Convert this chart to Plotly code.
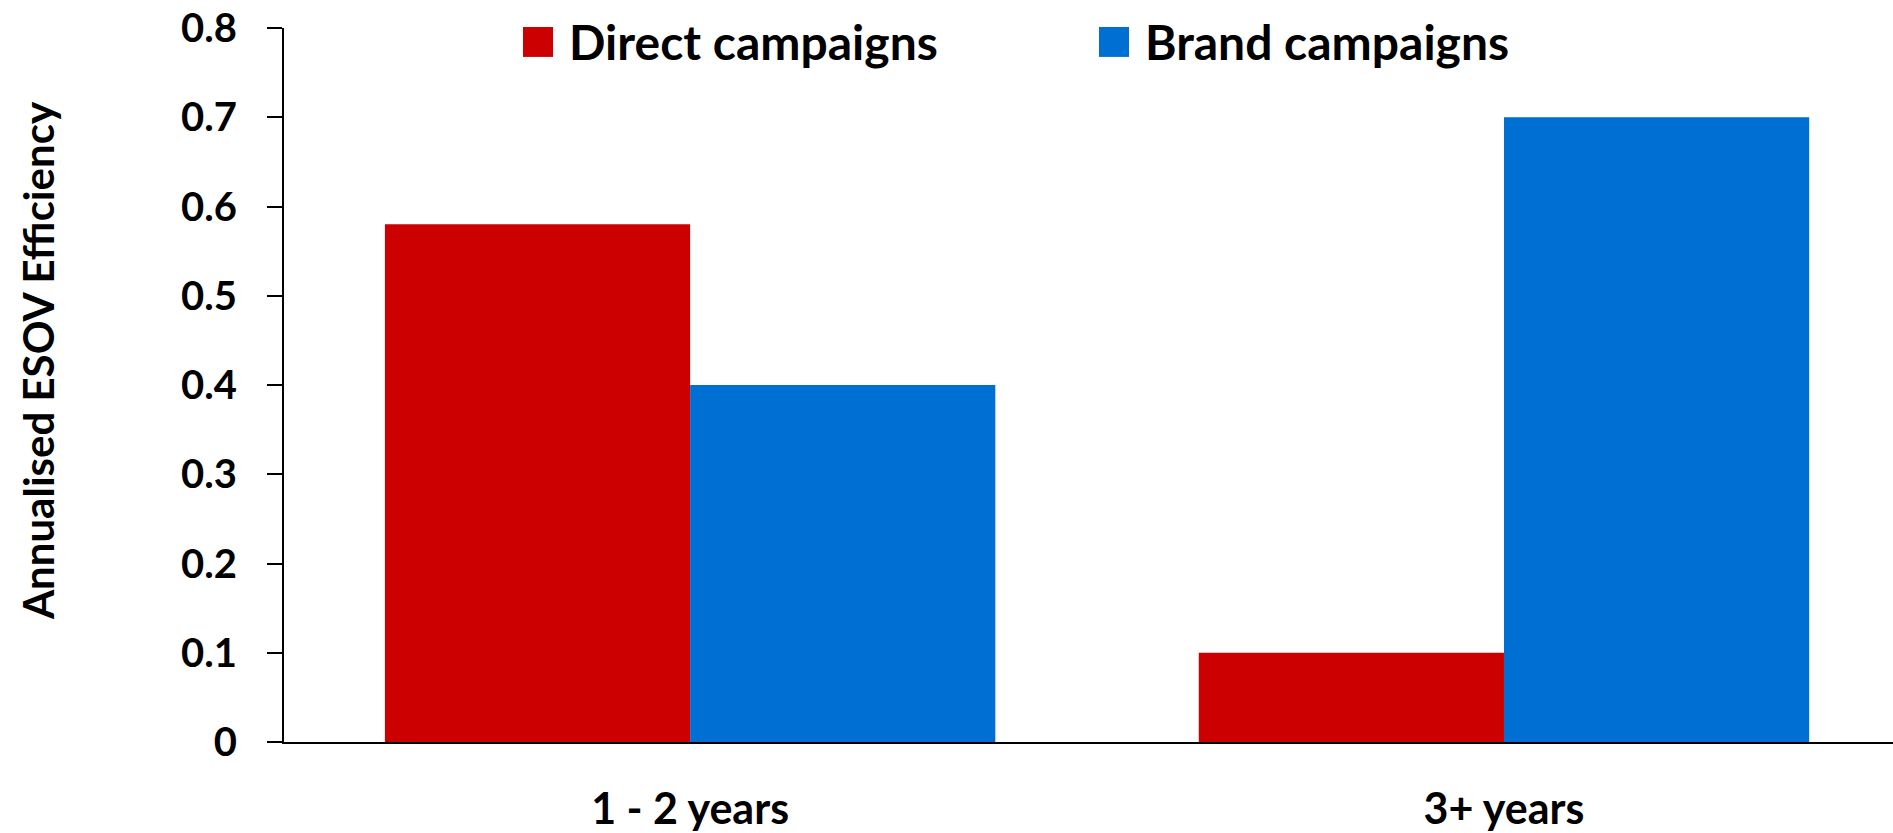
import plotly.graph_objects as go

categories = ["1 - 2 years", "3+ years"]
direct_values = [0.58, 0.10]
brand_values = [0.40, 0.70]
series_names = ["Direct campaigns", "Brand campaigns"]
y_tick_values = [0, 0.1, 0.2, 0.3, 0.4, 0.5, 0.6, 0.7, 0.8]
y_tick_labels = ["0", "0.1", "0.2", "0.3", "0.4", "0.5", "0.6", "0.7", "0.8"]
y_title = "Annualised ESOV Efficiency"

RED = "#CC0000"
BLUE = "#006FD4"
FONT = "Lato"

W, H = 1893, 833
L, R, T, B = 284, 0, 28, 89
pw = W - L - R
ph = H - T - B

def px_x(p):
    return (p - L) / pw

def px_y(p):
    return (H - B - p) / ph

fig = go.Figure()
fig.add_trace(go.Bar(x=categories, y=direct_values, name=series_names[0],
                     marker=dict(color=RED, line=dict(width=0)), showlegend=False))
fig.add_trace(go.Bar(x=categories, y=brand_values, name=series_names[1],
                     marker=dict(color=BLUE, line=dict(width=0)), showlegend=False))

# custom legend
legend_items = [(523, series_names[0], RED), (1099, series_names[1], BLUE)]
for x0, name, col in legend_items:
    fig.add_shape(type="rect", xref="paper", yref="paper",
                  x0=px_x(x0), x1=px_x(x0 + 30), y0=px_y(57), y1=px_y(27),
                  fillcolor=col, line=dict(width=0))
    fig.add_annotation(xref="paper", yref="paper", x=px_x(x0 + 44), y=px_y(42),
                       xanchor="left", yanchor="middle", showarrow=False,
                       text=name, font=dict(family=FONT, size=48, color="black", weight=700))

fig.add_annotation(xref="paper", yref="paper", x=px_x(38), y=px_y(362),
                   xanchor="center", yanchor="middle", showarrow=False, textangle=-90,
                   text=y_title, font=dict(family=FONT, size=42, color="black", weight=700))

fig.update_layout(
    width=W, height=H,
    margin=dict(l=L, r=R, t=T, b=B, pad=0),
    paper_bgcolor="white", plot_bgcolor="white",
    barmode="group", bargap=0.25, bargroupgap=0,
    font=dict(family=FONT, color="black", weight=700),
    xaxis=dict(type="category", range=[-0.499, 1.478], showline=True, linecolor="black",
               linewidth=2, ticks="", showgrid=False, zeroline=False,
               tickfont=dict(family=FONT, size=43, color="black", weight=700),
               ticklabelstandoff=28),
    yaxis=dict(range=[0, 0.8], tickvals=y_tick_values, ticktext=y_tick_labels,
               showline=True, linecolor="black", linewidth=2, ticks="outside",
               ticklen=15, tickwidth=2, tickcolor="black", showgrid=False, zeroline=False,
               tickfont=dict(family=FONT, size=40, color="black", weight=700),
               ticklabelstandoff=22),
)

fig.write_html("out.html", config={"displayModeBar": False},
               post_script="document.body.style.margin='0';document.body.style.overflow='hidden';")
